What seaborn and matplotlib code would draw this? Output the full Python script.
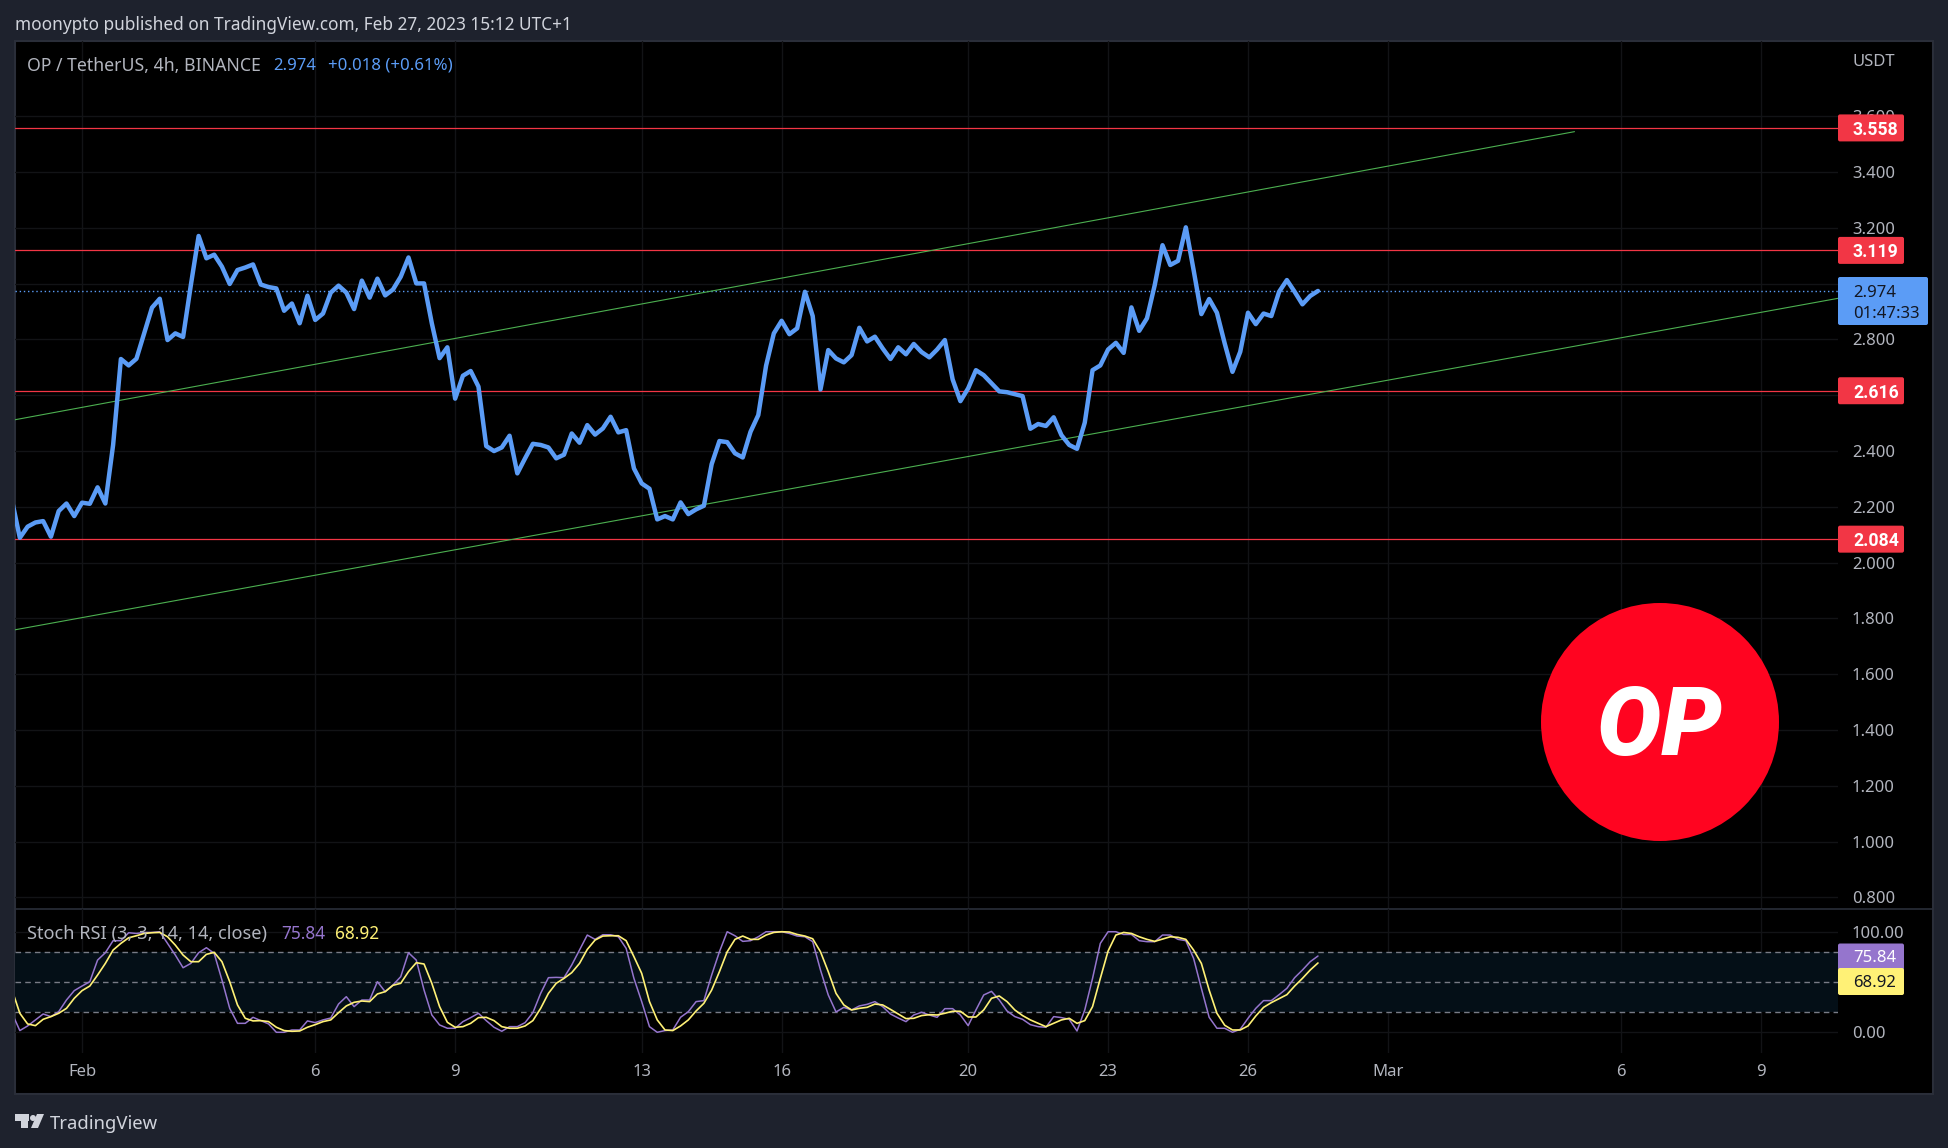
import pandas as pd
import matplotlib.pyplot as plt
import seaborn as sns
from matplotlib.patches import Circle, FancyBboxPatch, Polygon, Rectangle

# 4h closes, Jan 30 12:00 to Feb 27 12:00
price = [
    2.222, 2.089, 2.129, 2.144, 2.149, 2.093, 2.185, 2.212, 2.167,
    2.215, 2.211, 2.270, 2.212, 2.422, 2.730, 2.707, 2.731, 2.822, 2.914,
    2.946, 2.798, 2.822, 2.809, 2.995, 3.171, 3.091, 3.104, 3.061, 2.999,
    3.049, 3.058, 3.069, 2.997, 2.988, 2.983, 2.903, 2.929, 2.858, 2.957,
    2.870, 2.893, 2.968, 2.993, 2.968, 2.909, 3.011, 2.950, 3.018, 2.958,
    2.979, 3.025, 3.094, 3.001, 3.001, 2.858, 2.733, 2.772, 2.588, 2.670,
    2.687, 2.631, 2.418, 2.400, 2.413, 2.455, 2.320, 2.374, 2.426, 2.422,
    2.413, 2.374, 2.387, 2.463, 2.430, 2.493, 2.459, 2.481, 2.523, 2.467,
    2.475, 2.338, 2.284, 2.265, 2.155, 2.167, 2.155, 2.216, 2.174, 2.191,
    2.204, 2.353, 2.436, 2.432, 2.392, 2.377, 2.469, 2.529, 2.706, 2.822,
    2.867, 2.819, 2.840, 2.971, 2.884, 2.621, 2.762, 2.732, 2.718, 2.744,
    2.842, 2.793, 2.810, 2.768, 2.730, 2.772, 2.747, 2.784, 2.755, 2.736,
    2.764, 2.798, 2.657, 2.579, 2.625, 2.690, 2.672, 2.643, 2.614, 2.611,
    2.604, 2.597, 2.480, 2.497, 2.490, 2.521, 2.457, 2.422, 2.408, 2.502,
    2.690, 2.707, 2.764, 2.788, 2.752, 2.915, 2.831, 2.876, 2.995, 3.138,
    3.067, 3.082, 3.202, 3.049, 2.891, 2.945, 2.896, 2.786, 2.684, 2.756,
    2.896, 2.855, 2.893, 2.884, 2.971, 3.013, 2.971, 2.926, 2.956, 2.974,
]
stoch_k = [
    18.9, 1.7, 6.3, 12.3, 18.2, 15.6, 20.5, 32.1, 41.4,
    46.0, 50.3, 71.8, 79.1, 91.1, 91.1, 99.0, 98.3, 99.3, 99.3,
    100.0, 88.4, 76.8, 64.2, 68.5, 79.1, 84.1, 78.5, 52.0, 23.8,
    8.9, 8.9, 14.9, 11.6, 8.3, 0.0, 0.0, 2.3, 2.3, 11.3,
    9.6, 12.3, 14.2, 28.1, 35.4, 25.5, 32.1, 32.1, 50.3, 40.4,
    47.0, 55.3, 79.1, 71.8, 42.0, 17.2, 7.3, 4.0, 4.0, 10.6,
    14.6, 18.9, 11.6, 5.0, 1.0, 5.6, 5.6, 9.6, 19.5, 38.7,
    54.3, 54.6, 54.3, 66.9, 81.8, 96.7, 92.4, 97.0, 97.0, 95.0,
    83.4, 53.6, 30.5, 5.6, 0.0, 1.7, 2.3, 14.9, 20.5, 30.5,
    31.5, 56.9, 80.1, 100.0, 96.0, 90.4, 91.1, 95.0, 100.0, 100.0,
    100.0, 98.3, 95.7, 95.0, 90.1, 61.9, 37.1, 20.2, 24.8, 22.2,
    26.2, 27.8, 30.5, 25.5, 18.2, 14.2, 10.6, 17.2, 19.9, 17.2,
    14.9, 23.5, 23.5, 17.2, 6.6, 22.2, 37.1, 40.7, 32.1, 21.2,
    15.6, 12.9, 7.6, 5.6, 5.0, 15.6, 14.6, 12.9, 1.3, 22.2,
    53.6, 88.4, 100.0, 100.0, 97.3, 97.3, 91.1, 90.1, 90.1, 96.7,
    96.7, 92.4, 91.1, 73.5, 43.7, 14.9, 4.0, 4.0, 0.0, 3.0,
    13.9, 23.8, 31.5, 31.5, 37.4, 43.7, 54.3, 61.9, 70.2, 75.84,
]
stoch_d = [
    42.0, 18.9, 8.3, 6.6, 12.9, 15.6, 18.9, 23.8, 33.8,
    41.4, 46.0, 56.9, 68.5, 81.8, 88.4, 94.0, 96.0, 98.3, 99.0,
    99.3, 95.0, 86.7, 76.8, 70.2, 70.2, 77.5, 79.5, 70.2, 50.3,
    27.2, 13.9, 11.3, 11.6, 10.6, 5.0, 1.7, 1.0, 1.3, 5.0,
    7.6, 10.6, 12.3, 19.5, 26.2, 29.8, 31.1, 30.5, 38.1, 40.4,
    46.7, 48.7, 60.3, 69.2, 67.9, 48.7, 25.5, 9.9, 5.0, 5.6,
    8.9, 14.6, 14.9, 11.6, 5.6, 4.0, 4.0, 6.3, 11.6, 23.8,
    38.7, 48.7, 53.6, 59.3, 68.5, 82.4, 91.7, 95.7, 96.0, 96.0,
    91.1, 75.2, 58.6, 30.5, 12.3, 2.3, 1.7, 6.3, 12.3, 21.2,
    28.8, 42.0, 60.3, 80.1, 92.4, 95.7, 92.4, 92.4, 96.7, 99.3,
    100.0, 99.7, 97.3, 95.7, 93.0, 80.1, 60.3, 38.7, 27.2, 22.2,
    23.8, 24.8, 28.1, 27.2, 22.8, 18.2, 13.6, 13.9, 16.6, 17.5,
    17.2, 18.9, 20.9, 20.9, 15.2, 15.2, 22.2, 33.8, 36.1, 30.5,
    22.2, 16.6, 12.3, 8.9, 5.6, 8.9, 12.3, 13.9, 8.9, 11.6,
    25.5, 53.6, 80.8, 96.7, 99.3, 98.3, 95.0, 92.4, 90.4, 92.7,
    95.0, 94.4, 92.4, 81.8, 68.5, 42.0, 18.9, 7.0, 2.3, 2.3,
    6.3, 16.2, 24.8, 29.5, 33.4, 37.4, 46.0, 53.6, 61.9, 68.92,
]

levels = [3.558, 3.119, 2.616, 2.084]
last_price = 2.974

# channel lines: (start date, start price), (end date, end price)
upper_dates = ["2023-01-30 12:30", "2023-03-05 00:00"]
upper_prices = [2.511, 3.545]
lower_dates = ["2023-01-30 12:30", "2023-03-10 16:00"]
lower_prices = [1.758, 2.948]

price_ticks = [0.8, 1.0, 1.2, 1.4, 1.6, 1.8, 2.0, 2.2, 2.4, 2.6, 2.8, 3.0, 3.2, 3.4, 3.6]
stoch_ticks = [0, 100]
date_ticks = ["2023-02-01", "2023-02-06", "2023-02-09", "2023-02-13", "2023-02-16", "2023-02-20",
              "2023-02-23", "2023-02-26", "2023-03-01", "2023-03-06", "2023-03-09"]
date_labels = ["Feb", "6", "9", "13", "16", "20", "23", "26", "Mar", "6", "9"]

W, H = 1949, 1148
BG = "#1e222d"
EDGE = "#2a2e39"
GRID = "#121316"
TXT = "#b2b5be"
BLUE = "#5b9cf6"
RED = "#f23645"
GREEN = "#4caf50"
PURPLE = "#9575cd"
YELLOW = "#fff176"
FONT = "Noto Sans"


def rect(left, top, right, bottom):
    return [left / W, 1 - bottom / H, (right - left) / W, (bottom - top) / H]


def price_px(v):
    return 897.4 - (v - 0.8) * 279


sns.set_theme(style="dark")
plt.rcParams["font.family"] = FONT

dates = pd.date_range("2023-01-30 12:00", periods=len(price), freq="4h")
df = pd.DataFrame({"date": dates, "price": price, "k": stoch_k, "d": stoch_d})
upper = pd.DataFrame({"date": pd.to_datetime(upper_dates), "price": upper_prices})
lower = pd.DataFrame({"date": pd.to_datetime(lower_dates), "price": lower_prices})
xmin = pd.Timestamp("2023-02-01") - pd.Timedelta(days=1.437)
xmax = pd.Timestamp("2023-02-01") + pd.Timedelta(days=37.65)
tick_pos = pd.to_datetime(date_ticks)

fig = plt.figure(figsize=(W / 100, H / 100), dpi=100, facecolor=BG)

back = fig.add_axes([0, 0, 1, 1], zorder=0)
back.set_xlim(0, W)
back.set_ylim(H, 0)
back.axis("off")
back.add_patch(Rectangle((15, 41), 1918, 1053, facecolor="black", edgecolor=EDGE, linewidth=1.5))
back.plot([15, 1933], [908.5, 908.5], color=EDGE, linewidth=1.2)

# price pane
ax = fig.add_axes(rect(15, 41, 1838, 908), zorder=1)
ax.set_facecolor("none")
for level in levels:
    ax.axhline(level, color=RED, linewidth=0.9, zorder=3)
ax.axhline(last_price, color=BLUE, linewidth=1.0, linestyle=(0, (1, 2)), zorder=3)
sns.lineplot(data=upper, x="date", y="price", ax=ax, color=GREEN, linewidth=0.8, zorder=3)
sns.lineplot(data=lower, x="date", y="price", ax=ax, color=GREEN, linewidth=0.8, zorder=3)
sns.lineplot(data=df, x="date", y="price", ax=ax, color=BLUE, linewidth=3.2, zorder=4, errorbar=None)
ax.set_xlim(xmin, xmax)
ax.set_ylim(0.762, 3.870)
ax.set_xticks(tick_pos)
ax.set_xticklabels([])
ax.set_yticks(price_ticks)
ax.set_yticklabels([f"{t:.3f}" for t in price_ticks], color=TXT, fontsize=12)
ax.yaxis.tick_right()
ax.tick_params(axis="y", length=0, pad=10)
ax.tick_params(axis="x", length=0)
ax.grid(True, color=GRID, linewidth=1.0)
ax.set_axisbelow(True)
ax.set_xlabel("")
ax.set_ylabel("")
sns.despine(ax=ax, left=True, bottom=True)

# stoch rsi pane
ax2 = fig.add_axes(rect(15, 909, 1838, 1052.7), zorder=1)
ax2.set_facecolor("none")
ax2.axhspan(20, 80, color="#040f17", linewidth=0, zorder=1)
for band in [80, 50, 20]:
    ax2.axhline(band, color="#787b86", linewidth=1.0, linestyle=(0, (4, 3)), zorder=2)
sns.lineplot(data=df, x="date", y="k", ax=ax2, color=PURPLE, linewidth=1.1, zorder=3, errorbar=None)
sns.lineplot(data=df, x="date", y="d", ax=ax2, color=YELLOW, linewidth=1.2, zorder=4, errorbar=None)
ax2.set_xlim(xmin, xmax)
ax2.set_ylim(-20.3, 122.6)
ax2.set_xticks(tick_pos)
ax2.set_xticklabels(date_labels, color=TXT, fontsize=12)
ax2.set_yticks(stoch_ticks)
ax2.set_yticklabels(["0.00", "100.00"], color=TXT, fontsize=12)
ax2.yaxis.tick_right()
ax2.tick_params(axis="y", length=0, pad=10)
ax2.tick_params(axis="x", length=0, pad=8)
ax2.grid(True, color=GRID, linewidth=1.0)
ax2.set_axisbelow(True)
ax2.set_xlabel("")
ax2.set_ylabel("")
sns.despine(ax=ax2, left=True, bottom=True)

# everything drawn on top, in pixels
top = fig.add_axes([0, 0, 1, 1], zorder=5)
top.set_xlim(0, W)
top.set_ylim(H, 0)
top.axis("off")


def label(x, y, s, color=TXT, size=12.4, **kw):
    top.text(x, y, s, color=color, fontsize=size, ha="left", va="center_baseline", **kw)


def tag(x0, y0, x1, y1, color):
    top.add_patch(FancyBboxPatch((x0, y0), x1 - x0, y1 - y0, boxstyle="round,pad=0,rounding_size=2",
                                 facecolor=color, edgecolor="none"))


label(15, 23, "moonypto published on TradingView.com, Feb 27, 2023 15:12 UTC+1", color="#d1d4dc")
label(27, 64, "OP / TetherUS, 4h, BINANCE", size=12.7)
label(273, 64, "2.974", color=BLUE, size=12.1)
label(328, 64, "+0.018 (+0.61%)", color=BLUE, size=12.1)
label(1853, 60, "USDT", size=12)
label(27, 932, "Stoch RSI (3, 3, 14, 14, close)", size=13.1)
label(281, 932, "75.84", color=PURPLE)
label(335, 932, "68.92", color=YELLOW)

for level in levels:
    y = price_px(level)
    tag(1838, y - 13.5, 1904, y + 13.5, RED)
    label(1853, y, f"{level:.3f}", color="white", size=12.7, fontfamily="Roboto", fontweight="bold")

tag(1838, 277, 1928, 325, BLUE)
label(1853, 291, "2.974", color="#131722", size=12)
label(1853, 312, "01:47:33", color="#131722", size=12)

tag(1838, 943.5, 1904, 970, PURPLE)
tag(1838, 968, 1904, 995, YELLOW)
label(1853, 956, "75.84", color="white", size=12)
label(1853, 981, "68.92", color="#131722", size=12)

# OP coin
top.add_patch(Circle((1660, 722), 119, facecolor="#ff0420", edgecolor="none"))
top.text(1659, 719, "OP", color="white", fontsize=69, fontfamily="Roboto", fontweight="black",
         fontstyle="italic", ha="center", va="center_baseline")

# TradingView footer
top.add_patch(Rectangle((15, 1114), 14, 7, facecolor="#d1d4dc", edgecolor="none"))
top.add_patch(Rectangle((21, 1114), 7, 14, facecolor="#d1d4dc", edgecolor="none"))
top.add_patch(Circle((33, 1118), 3, facecolor="#d1d4dc", edgecolor="none"))
top.add_patch(Polygon([(37, 1114), (44, 1114), (38, 1128), (31, 1128)], facecolor="#d1d4dc", edgecolor="none"))
label(50, 1122, "TradingView", color="#d1d4dc", size=13.3)

fig.savefig("out.png", dpi=100, facecolor=BG)
